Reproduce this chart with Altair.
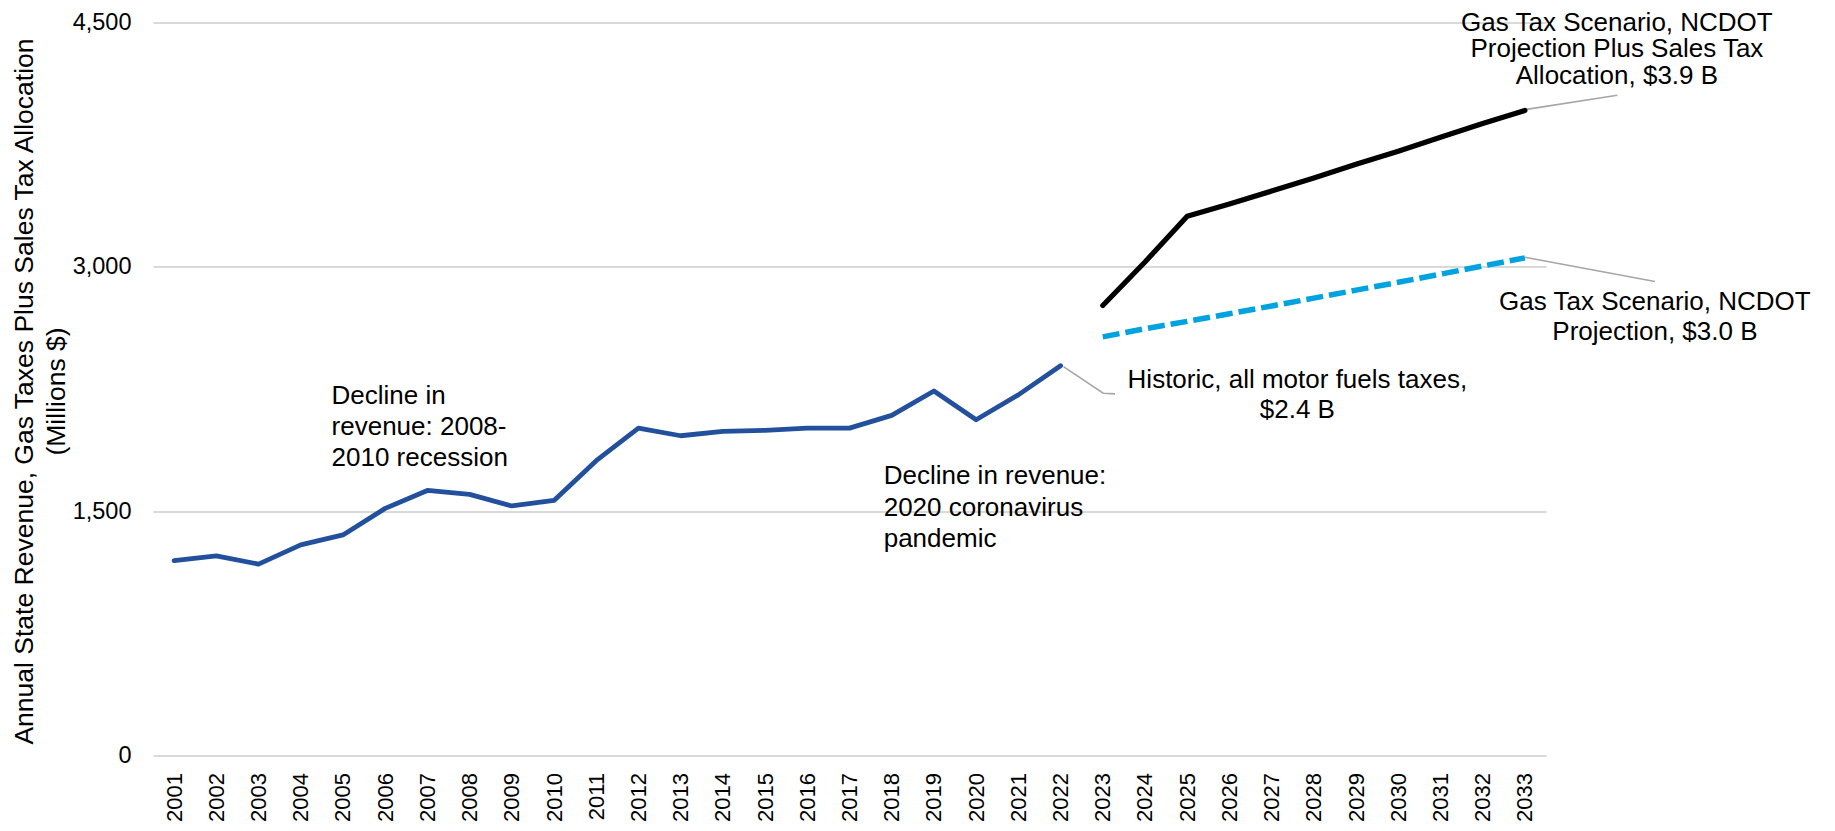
import altair as alt
import pandas as pd

FONT = "Liberation Sans"

# ---- data ----
hist_years = list(range(2001, 2023))
hist_values = [1196, 1226, 1175, 1293, 1354, 1517, 1627, 1603, 1532, 1566, 1810,
               2010, 1963, 1990, 1996, 2010, 2010, 2088, 2238, 2061, 2214, 2393]

proj_years = list(range(2023, 2034))
sales_values = [2763, 3030, 3310, 3385, 3465, 3545, 3630, 3710, 3795, 3880, 3960]
gas_values = [2570, 2620, 2665, 2712, 2760, 2808, 2857, 2905, 2955, 3005, 3055]

x_ticks = list(range(2001, 2034))
y_ticks = [0, 1500, 3000, 4500]

y_title = ["Annual State Revenue, Gas Taxes Plus Sales Tax Allocation", "(Millions $)"]

# annotations (anchor in data units: year, value)
ann_recession = "Decline in\nrevenue: 2008-\n2010 recession"
ann_recession_pos = (2004.73, 2159)
ann_covid = "Decline in revenue:\n2020 coronavirus\npandemic"
ann_covid_pos = (2017.81, 1664)
ann_hist = "Historic, all motor fuels taxes,\n$2.4 B"
ann_hist_pos = (2027.61, 2255)
ann_sales = "Gas Tax Scenario, NCDOT\nProjection Plus Sales Tax\nAllocation, $3.9 B"
ann_sales_pos = (2035.18, 4448)
ann_gas = "Gas Tax Scenario, NCDOT\nProjection, $3.0 B"
ann_gas_pos = (2036.08, 2733)

# leader lines (data units)
leader_id = ["h", "h", "h", "s", "s", "g", "g"]
leader_order = [0, 1, 2, 0, 1, 0, 1]
leader_x = [2022.07, 2023.01, 2023.29, 2033.0, 2035.19, 2033.0, 2036.08]
leader_y = [2387, 2224, 2220, 3965, 4053, 3059, 2910]

# ---- tables ----
hist_df = pd.DataFrame({"year": hist_years, "value": hist_values})
sales_df = pd.DataFrame({"year": proj_years, "value": sales_values})
gas_df = pd.DataFrame({"year": proj_years, "value": gas_values})
leader_df = pd.DataFrame({"id": leader_id, "ord": leader_order, "year": leader_x, "value": leader_y})

xscale = alt.Scale(domain=[2000.5, 2033.5], nice=False, zero=False)
yscale = alt.Scale(domain=[0, 4500], nice=False, zero=True)

x_axis = alt.Axis(values=x_ticks, format="d", labelAngle=270, grid=False, domain=False,
                  ticks=False, labelPadding=17, labelFont=FONT, labelFontSize=22,
                  labelColor="#000000", title=None, labelOverlap=False)
y_axis = alt.Axis(values=y_ticks, format=",d", grid=True, gridColor="#D9D9D9", gridWidth=2,
                  domain=False, ticks=False, labelPadding=22, labelFont=FONT, labelFontSize=23.5,
                  labelColor="#000000", title=y_title, titleFont=FONT, titleFontSize=26.5,
                  titleFontWeight="normal", titleColor="#000000", titleAngle=270,
                  titleAlign="center", titleBaseline="alphabetic", titleLineHeight=32,
                  titleX=-121, titleY=368.5)

X = alt.X("year:Q", scale=xscale, axis=x_axis)
Y = alt.Y("value:Q", scale=yscale, axis=y_axis)

leaders = alt.Chart(leader_df).mark_line(color="#A6A6A6", strokeWidth=1.6).encode(
    x=X, y=Y, detail="id:N", order="ord:Q")

hist_line = alt.Chart(hist_df).mark_line(color="#23509C", strokeWidth=4.8, strokeCap="round",
                                         strokeJoin="round").encode(x=X, y=Y)
sales_line = alt.Chart(sales_df).mark_line(color="#000000", strokeWidth=5.2, strokeCap="round",
                                           strokeJoin="round").encode(x=X, y=Y)
gas_line = alt.Chart(gas_df).mark_line(color="#00A3E0", strokeWidth=5.5, strokeDash=[17, 6],
                                       strokeCap="butt").encode(x=X, y=Y)


def ann(text, pos, align, line_height):
    df = pd.DataFrame({"year": [pos[0]], "value": [pos[1]], "label": [text]})
    return alt.Chart(df).mark_text(font=FONT, fontSize=26, color="#000000", align=align,
                                   baseline="alphabetic", lineBreak="\n",
                                   lineHeight=line_height).encode(x=X, y=Y, text="label:N")


texts = [
    ann(ann_recession, ann_recession_pos, "left", 31),
    ann(ann_covid, ann_covid_pos, "left", 31.5),
    ann(ann_hist, ann_hist_pos, "center", 30),
    ann(ann_sales, ann_sales_pos, "center", 26.5),
    ann(ann_gas, ann_gas_pos, "center", 30),
]

chart = alt.layer(hist_line, leaders, sales_line, gas_line, *texts).properties(
    width=1393, height=733,
    padding={"left": 145, "top": 14.5, "right": 281, "bottom": 67.5},
    autosize=alt.AutoSizeParams(type="none"),
    background="#FFFFFF",
).configure_view(stroke=None)

chart.save("out.html", embed_options={"renderer": "svg", "actions": False})
